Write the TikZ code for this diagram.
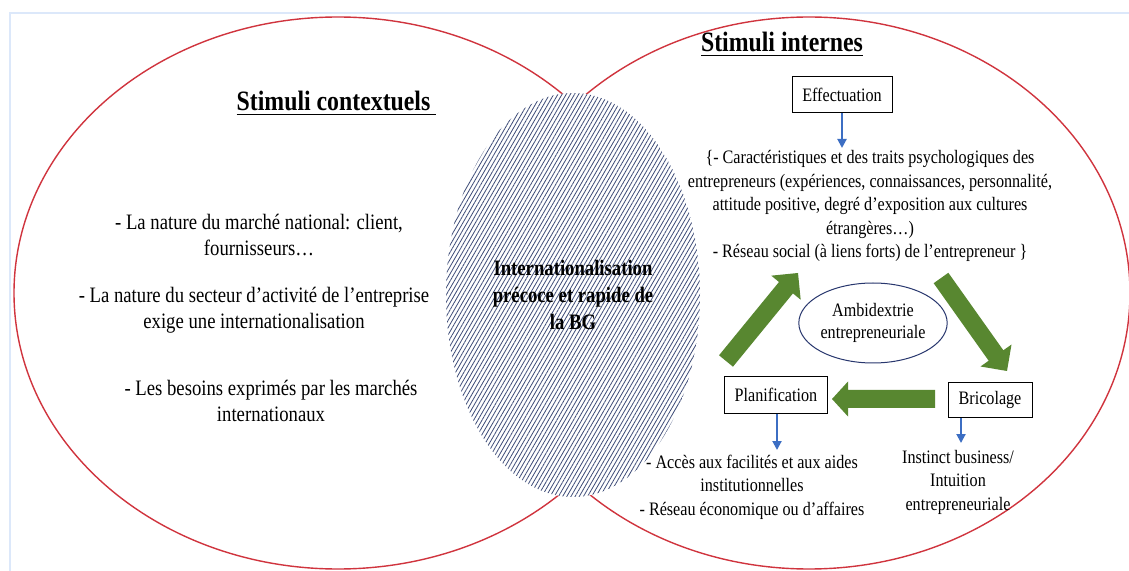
\documentclass[tikz,border=0pt]{standalone}
\usepackage{fontspec}
\setmainfont{Liberation Serif}[FakeStretch=0.85]
\usetikzlibrary{patterns.meta,arrows.meta,calc,shapes.geometric}
\definecolor{venn}{RGB}{208,52,62}
\definecolor{framec}{RGB}{220,232,250}
\definecolor{hatchc}{RGB}{62,76,120}
\definecolor{arrgreen}{RGB}{88,135,48}
\definecolor{arrblue}{RGB}{60,110,195}
\definecolor{ambic}{RGB}{40,55,110}
\newcommand\greenarrow[5]{%
  \coordinate (ga-b) at ($(#2)!#5!(#1)$);
  \fill[arrgreen] ($(#1)!#3!90:(#2)$) -- ($(ga-b)!#3!90:(#2)$) -- ($(ga-b)!#4!90:(#2)$)
    -- (#2) -- ($(ga-b)!#4!-90:(#2)$) -- ($(ga-b)!#3!-90:(#2)$) -- ($(#1)!#3!-90:(#2)$) -- cycle;}
\begin{document}
\begin{tikzpicture}[x=0.5pt,y=-0.5pt,
  vennline/.style={draw=venn,line width=0.7pt},
  bodyL/.style={align=center,font=\fontsize{11}{13}\selectfont,inner sep=0pt},
  bodyR/.style={align=center,font=\fontsize{9.5}{11.75}\selectfont,inner sep=0pt},
  titletext/.style={font=\fontsize{14}{16}\selectfont\bfseries,inner sep=0pt,anchor=base},
  stagebox/.style={draw=black,line width=0.5pt,fill=white,font=\fontsize{9.5}{11}\selectfont,inner sep=0pt},
  bluearrow/.style={draw=arrblue,line width=1pt,-{Triangle[length=4.5pt,width=4.5pt]}}]
\useasboundingbox (0,0) rectangle (1129,571);
\fill[white] (0,0) rectangle (1129,571);
\draw[framec,line width=1pt] (10,571) -- (10,13) -- (1129,13);
% Venn circles
\draw[vennline] (338,293) ellipse [x radius=324,y radius=276];
\draw[vennline] (809,293) ellipse [x radius=321,y radius=276];
% central hatched ellipse
\node[ellipse,inner sep=0pt,minimum width=127pt,minimum height=202pt,
  preaction={fill=white},
  pattern={Lines[angle=60,distance=1.8pt,line width=0.4pt]},pattern color=hatchc,
  align=center,font=\fontsize{11}{13.7}\selectfont\bfseries] (ib) at (573,295)
  {Internationalisation\\précoce et rapide de\\la BG};
% titles
\node[titletext] (tc) at (336.5,111) {\underline{Stimuli contextuels~}};
\node[titletext] (ti) at (782,52) {\underline{Stimuli internes}};
% left texts
\node[bodyL] (l1) at (259,235) {- La nature du marché national: client,\\fournisseurs…};
\node[bodyL] (l2) at (254,310) {- La nature du secteur d’activité de l’entreprise\\exige une internationalisation};
\node[bodyL] (l3) at (271,401) {- Les besoins exprimés par les marchés\\internationaux};
% right side
\node[stagebox,minimum width=50pt,minimum height=18pt] (eff) at (842,95) {Effectuation};
\node[bodyR] (efftxt) at (870,206) {\{- Caractéristiques et des traits psychologiques des\\entrepreneurs (expériences, connaissances, personnalité,\\attitude positive, degré d’exposition aux cultures\\étrangères…)\\- Réseau social (à liens forts) de l’entrepreneur \}};
\node[stagebox,minimum width=51.5pt,minimum height=18pt] (plan) at (776,395) {Planification};
\node[stagebox,minimum width=42pt,minimum height=17.5pt] (bric) at (990,400) {Bricolage};
\node[draw=ambic,line width=0.5pt,ellipse,minimum width=70pt,minimum height=40pt,inner sep=0pt,
  align=center,font=\fontsize{9.5}{11}\selectfont] (amb) at (873,323) {Ambidextrie\\entrepreneuriale};
\node[bodyR] (plantxt) at (752,487) {- Accès aux facilités et aux aides\\institutionnelles\\- Réseau économique ou d’affaires};
\node[bodyR] (brictxt) at (958,482) {Instinct business/\\Intuition\\entrepreneuriale};
% blue arrows
\coordinate (effend) at (842,148);
\draw[bluearrow] (eff.south) -- (effend);
\coordinate (planend) at (777,450);
\draw[bluearrow] (plan.south -| planend) -- (planend);
\coordinate (bricend) at (961,443);
\draw[bluearrow] (bric.south -| bricend) -- (bricend);
% green block arrows
\coordinate (g1t) at (726,361); \coordinate (g1p) at (798,273);
\greenarrow{g1t}{g1p}{4.5pt}{9.5pt}{9.5pt}
\coordinate (g2t) at (941,278); \coordinate (g2p) at (1007,371);
\greenarrow{g2t}{g2p}{4.5pt}{9.5pt}{9.5pt}
\coordinate (g3t) at (935,399); \coordinate (g3p) at (832,399);
\greenarrow{g3t}{g3p}{4.5pt}{8.75pt}{8pt}
\end{tikzpicture}
\end{document}
